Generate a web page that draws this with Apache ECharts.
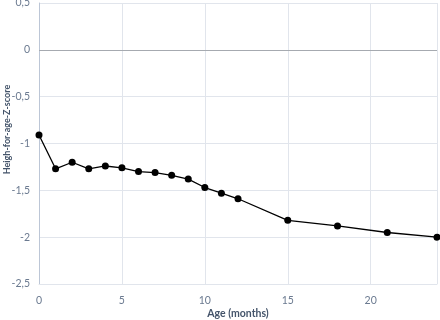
<!DOCTYPE html>
<html>
<head>
<meta charset="utf-8">
<script src="https://cdn.jsdelivr.net/npm/echarts@6/dist/echarts.min.js"></script>
<style>
html, body { margin: 0; padding: 0; background: #fff; }
#main { width: 440px; height: 320px; }
</style>
</head>
<body>
<div id="main"></div>
<script>
// age in months and mean height-for-age z-score
var ages = [0, 1, 2, 3, 4, 5, 6, 7, 8, 9, 10, 11, 12, 15, 18, 21, 24];
var zScores = [-0.91, -1.27, -1.20, -1.27, -1.24, -1.26, -1.30, -1.31, -1.34, -1.38, -1.47, -1.53, -1.59, -1.82, -1.88, -1.95, -2.00];

var points = [];
for (var i = 0; i < ages.length; i++) {
	points.push([ages[i], zScores[i]]);
}

function comma(v) {
	return String(v).replace('.', ',');
}

var font = 'Lato, "Open Sans", sans-serif';
var chart = echarts.init(document.getElementById('main'));
chart.setOption({
	animation: false,
	grid: { left: 39, right: 3, top: 3, bottom: 36, containLabel: false, outerBoundsMode: 'none' },
	xAxis: {
		type: 'value',
		min: 0,
		max: 24,
		interval: 5,
		name: 'Age (months)',
		nameLocation: 'middle',
		nameGap: 24,
		nameMoveOverlap: false,
		nameTextStyle: { color: '#44546a', fontWeight: 'bold', fontSize: 10.5, fontFamily: font },
		axisLine: { onZero: false, lineStyle: { color: '#e1e5ec' } },
		axisTick: { show: false },
		axisLabel: { color: '#6b7a90', fontSize: 10.5, fontFamily: font, margin: 11, showMaxLabel: false },
		splitLine: { lineStyle: { color: '#e1e5ec' } }
	},
	yAxis: {
		type: 'value',
		min: -2.5,
		max: 0.5,
		interval: 0.5,
		name: 'Heigh-for-age-Z-score',
		nameLocation: 'middle',
		nameGap: 27,
		nameMoveOverlap: false,
		nameTextStyle: { color: '#44546a', fontWeight: 'bold', fontSize: 9, fontFamily: font, padding: [0, 0, 0, 28] },
		axisLine: { show: true, lineStyle: { color: '#bcc6d6' } },
		axisTick: { show: false },
		axisLabel: { color: '#6b7a90', fontSize: 10.5, fontFamily: font, margin: 9, formatter: comma },
		splitLine: { lineStyle: { color: '#e1e5ec' } }
	},
	series: [{
		type: 'line',
		data: points,
		symbol: 'circle',
		symbolSize: 7,
		itemStyle: { color: '#000' },
		lineStyle: { color: '#000', width: 1.3 },
		markLine: {
			silent: true,
			symbol: 'none',
			label: { show: false },
			lineStyle: { color: '#a6aab0', type: 'solid', width: 1 },
			data: [{ yAxis: 0 }]
		}
	}]
});
</script>
</body>
</html>
